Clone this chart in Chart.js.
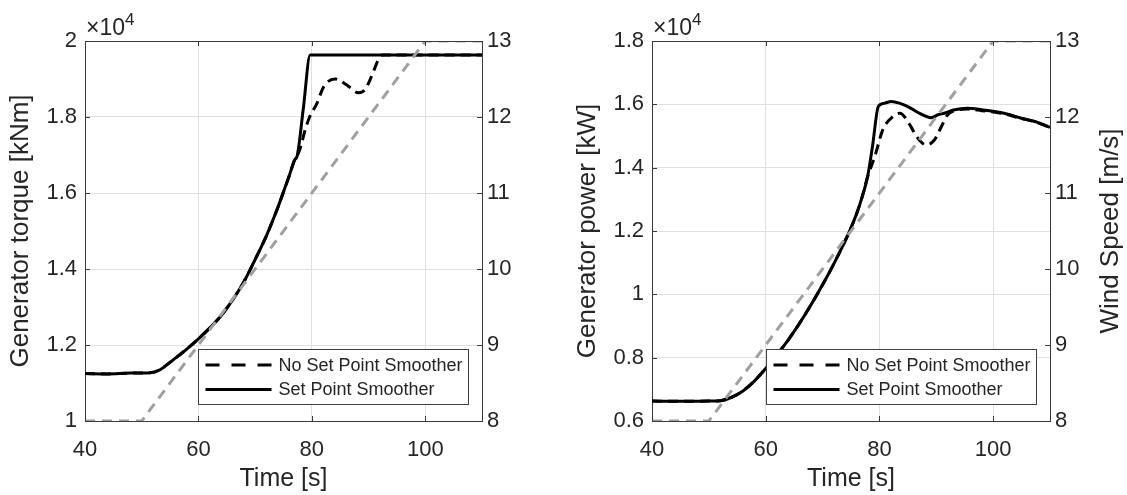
<!DOCTYPE html>
<html lang="en">
<head>
  <meta charset="UTF-8" />
  <title>Set Point Smoother</title>
  <script src="https://cdn.jsdelivr.net/npm/chart.js"></script>
  <style>
    html, body { margin: 0; padding: 0; background: #fff; }
    .panel { position: absolute; top: 0; height: 495px; }
    #left { left: 0; width: 563px; }
    #right { left: 563px; width: 564px; }
  </style>
</head>
<body>
  <div class="panel" id="left"><canvas id="torqueChart"></canvas></div>
  <div class="panel" id="right"><canvas id="powerChart"></canvas></div>

  <script>
    const FONT = '"Liberation Sans", Arial, Helvetica, sans-serif';
    const INK = '#262626';
    const AXIS = '#3a3a3a';
    const GRID = '#e0e0e0';
    const GREY = '#a0a0a0';

    // wind speed input [m/s], same for both panels
    const windTime = [40, 50, 100, 110];
    const windSpeed = [8, 8, 13, 13];

    // generator torque [kNm]
    const torqueTime = [40, 44, 48, 51.5, 53, 54, 56, 58, 60, 62, 64, 66, 68, 70, 72, 74, 75, 76, 77, 77.4, 78.5, 79.7, 90, 110];
    const torqueSps = [11250, 11240, 11260, 11270, 11330, 11430, 11660, 11900, 12160, 12450, 12770, 13180, 13660, 14250, 14880, 15620, 16030, 16450, 16880, 16970, 18230, 19630, 19630, 19630];
    const torqueNoSpsTime = [40, 44, 48, 51.5, 53, 54, 56, 58, 60, 62, 64, 66, 68, 70, 72, 74, 75, 76, 77, 77.4, 78.0, 78.8, 79.6, 80.9, 82.1, 84.1, 86.1, 88.2, 89.3, 90.5, 91.7, 92.5, 100, 110];
    const torqueNoSps = [11250, 11240, 11260, 11270, 11330, 11430, 11660, 11900, 12160, 12450, 12770, 13180, 13660, 14250, 14880, 15620, 16030, 16450, 16880, 16970, 17200, 17650, 18000, 18360, 18800, 19000, 18850, 18640, 18710, 19060, 19500, 19630, 19630, 19630];

    // generator power [kW]
    const powerTime = [40, 45, 50, 52, 54, 56, 58, 60, 62, 64, 66, 68, 70, 72, 74, 75, 76, 77, 77.9, 78.8, 79.8, 80.8, 82.1, 83.5, 85, 87, 89.1, 90.3, 91.4, 93, 95.5, 98, 101.9, 104.8, 107.5, 110];
    const powerSps = [6630, 6620, 6630, 6640, 6750, 6950, 7260, 7660, 8100, 8570, 9100, 9680, 10300, 10970, 11700, 12100, 12550, 13100, 13700, 14700, 15930, 16030, 16090, 16040, 15930, 15720, 15580, 15670, 15720, 15820, 15880, 15830, 15720, 15570, 15450, 15270];
    const powerNoSpsTime = [40, 45, 50, 52, 54, 56, 58, 60, 62, 64, 66, 68, 70, 72, 74, 75, 76, 77, 77.9, 79.2, 80.6, 82.4, 83.6, 85.3, 86.5, 88.2, 89.7, 90.9, 92.0, 93, 95.5, 98, 101.9, 104.8, 107.5, 110];
    const powerNoSps = [6630, 6620, 6630, 6640, 6750, 6950, 7260, 7660, 8100, 8570, 9100, 9680, 10300, 10970, 11700, 12100, 12550, 13100, 13700, 14360, 15200, 15620, 15720, 15370, 14990, 14720, 14880, 15300, 15670, 15790, 15850, 15800, 15700, 15560, 15440, 15270];

    const legendLabels = ['No Set Point Smoother', 'Set Point Smoother'];

    const pts = (xs, ys) => xs.map((x, i) => ({ x: x, y: ys[i] }));

    // draws the box top, inward ticks, legend, x10^4 and optional right title
    const panelDecor = {
      id: 'panelDecor',
      afterDatasetsDraw(chart, args, opts) {
        const { ctx, chartArea: a } = chart;
        const xs = chart.scales.x, yl = chart.scales.y, yr = chart.scales.y1;
        ctx.save();
        ctx.strokeStyle = AXIS;
        ctx.lineWidth = 1;
        ctx.setLineDash([]);
        ctx.beginPath();
        ctx.moveTo(a.left, a.top + 0.5);
        ctx.lineTo(a.right, a.top + 0.5);
        xs.ticks.forEach(t => {
          const px = Math.round(xs.getPixelForValue(t.value)) + 0.5;
          ctx.moveTo(px, a.bottom); ctx.lineTo(px, a.bottom - 5);
          ctx.moveTo(px, a.top); ctx.lineTo(px, a.top + 5);
        });
        yl.ticks.forEach(t => {
          const py = Math.round(yl.getPixelForValue(t.value)) + 0.5;
          ctx.moveTo(a.left, py); ctx.lineTo(a.left + 5, py);
        });
        yr.ticks.forEach(t => {
          const py = Math.round(yr.getPixelForValue(t.value)) + 0.5;
          ctx.moveTo(a.right, py); ctx.lineTo(a.right - 5, py);
        });
        ctx.stroke();

        // legend box
        const w = 270, h = 55;
        const bx = Math.round(a.right - 14 - w) + 0.5;
        const by = Math.round(a.bottom - 17 - h) + 0.5;
        ctx.fillStyle = '#fff';
        ctx.fillRect(bx, by, w, h);
        ctx.strokeStyle = '#404040';
        ctx.strokeRect(bx, by, w, h);
        ctx.font = '18px ' + FONT;
        ctx.textBaseline = 'middle';
        ctx.fillStyle = INK;
        const entries = chart.data.datasets.filter(d => d.yAxisID === 'y');
        entries.forEach((d, i) => {
          const ly = by + 15.5 + i * 24.5;
          ctx.strokeStyle = '#000';
          ctx.lineWidth = 3;
          ctx.setLineDash(d.borderDash && d.borderDash.length ? [14, 12] : []);
          ctx.beginPath();
          ctx.moveTo(bx + 7, ly);
          ctx.lineTo(bx + 73, ly);
          ctx.stroke();
          ctx.fillText(d.label, bx + 80, ly + 1);
        });
        ctx.setLineDash([]);

        // exponent of the left axis
        ctx.textBaseline = 'alphabetic';
        ctx.font = '23px ' + FONT;
        ctx.fillText('\u00d710', a.left + 1, a.top - 6);
        const ew = ctx.measureText('\u00d710').width;
        ctx.font = '17px ' + FONT;
        ctx.fillText('4', a.left + 1 + ew, a.top - 16);

        // right axis title, read bottom to top
        if (opts.rightTitle) {
          ctx.font = '26px ' + FONT;
          ctx.textAlign = 'center';
          ctx.textBaseline = 'middle';
          ctx.translate(chart.width - 16, (a.top + a.bottom) / 2);
          ctx.rotate(-Math.PI / 2);
          ctx.fillText(opts.rightTitle, 0, 0);
        }
        ctx.restore();
      }
    };

    function makePanel(canvasId, cfg) {
      const tickFont = { family: FONT, size: 22 };
      return new Chart(document.getElementById(canvasId), {
        type: 'line',
        data: {
          datasets: [
            {
              label: legendLabels[0],
              data: pts(cfg.noSpsTime, cfg.noSps),
              yAxisID: 'y',
              borderColor: '#000',
              borderWidth: 3,
              borderDash: [10, 6],
              cubicInterpolationMode: 'monotone',
              order: 2
            },
            {
              label: legendLabels[1],
              data: pts(cfg.spsTime, cfg.sps),
              yAxisID: 'y',
              borderColor: '#000',
              borderWidth: 3,
              cubicInterpolationMode: 'monotone',
              order: 1
            },
            {
              label: 'Wind Speed',
              data: pts(windTime, windSpeed),
              yAxisID: 'y1',
              borderColor: GREY,
              borderWidth: 3,
              borderDash: [10, 7],
              order: 0
            }
          ]
        },
        options: {
          responsive: true,
          maintainAspectRatio: false,
          animation: false,
          layout: { padding: { top: 41, left: 0, right: 0, bottom: 0 } },
          elements: { point: { radius: 0 }, line: { fill: false } },
          plugins: {
            legend: { display: false },
            tooltip: { enabled: false },
            panelDecor: { rightTitle: cfg.rightTitle }
          },
          scales: {
            x: {
              type: 'linear',
              position: 'bottom',
              min: 40,
              max: 110,
              afterFit: s => { s.height = 74; },
              ticks: { stepSize: 20, includeBounds: false, font: tickFont, color: INK, padding: 16, maxRotation: 0 },
              grid: { color: GRID, drawTicks: false },
              border: { color: AXIS, width: 1 },
              title: { display: true, text: 'Time [s]', color: INK, font: { family: FONT, size: 25 }, padding: { top: 0, bottom: 1 } }
            },
            y: {
              position: 'left',
              min: cfg.yMin,
              max: cfg.yMax,
              afterFit: s => { s.width = cfg.leftW; },
              ticks: {
                stepSize: 2000,
                font: tickFont,
                color: INK,
                padding: 8,
                callback: v => String(+(v / 1e4).toFixed(1))
              },
              grid: { color: GRID, drawTicks: false },
              border: { color: AXIS, width: 1 },
              title: { display: true, text: cfg.leftTitle, color: INK, font: { family: FONT, size: 26 }, padding: { top: cfg.titlePad, bottom: 0 } }
            },
            y1: {
              position: 'right',
              min: 8,
              max: 13,
              afterFit: s => { s.width = cfg.rightW; },
              ticks: { stepSize: 1, font: tickFont, color: INK, padding: 5 },
              grid: { display: false, drawTicks: false },
              border: { color: AXIS, width: 1 }
            }
          }
        },
        plugins: [panelDecor]
      });
    }

    makePanel('torqueChart', {
      spsTime: torqueTime, sps: torqueSps,
      noSpsTime: torqueNoSpsTime, noSps: torqueNoSps,
      yMin: 10000, yMax: 20000,
      leftTitle: 'Generator torque [kNm]',
      leftW: 85, rightW: 81, titlePad: 5
    });

    makePanel('powerChart', {
      spsTime: powerTime, sps: powerSps,
      noSpsTime: powerNoSpsTime, noSps: powerNoSps,
      yMin: 6000, yMax: 18000,
      leftTitle: 'Generator power [kW]',
      leftW: 89, rightW: 77, titlePad: 9,
      rightTitle: 'Wind Speed [m/s]'
    });
  </script>
</body>
</html>
